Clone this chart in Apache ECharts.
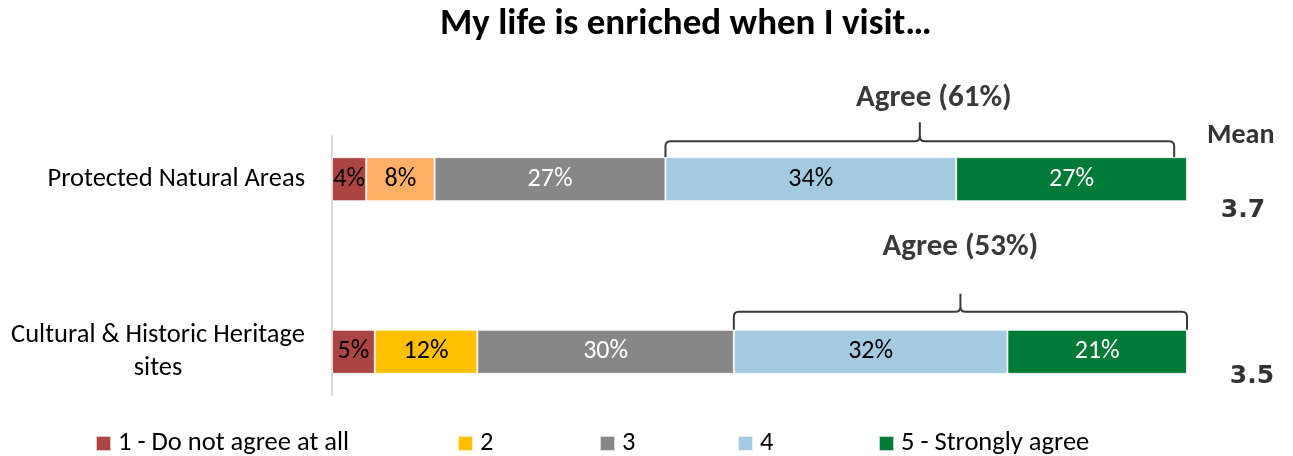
<!DOCTYPE html>
<html>
<head>
<meta charset="utf-8">
<script src="https://cdn.jsdelivr.net/npm/echarts@6/dist/echarts.min.js"></script>
<style>html,body{margin:0;padding:0;background:#fff}#c{width:1293px;height:456px}</style>
</head>
<body>
<div id="c"></div>
<script>
// ---- data ----
const categories = ['Protected Natural Areas', '', 'Cultural & Historic Heritage\nsites'];
const seriesNames = ['1 - Do not agree at all', '2', '3', '4', '5 - Strongly agree'];
const s1 = [4, null, 5];
const s2 = [8, null, 12];
const s3 = [27, null, 30];
const s4 = [34, null, 32];
const s5 = [27, null, 21];
const agreePct = [61, null, 53];
const agreeEnd = [98.5, null, 100];
const meanValues = ['3.7', null, '3.5'];
const titleText = 'My life is enriched when I visit…';

const FONT = 'Carlito, Lato, "Open Sans", sans-serif';
const colors = ['#AB4543', '#FFC000', '#878787', '#A3CAE0', '#007A37'];
const row1Color2 = '#FFB066';
const labelColors = ['#000', '#000', '#fff', '#000', '#fff'];
const allSeries = [s1, s2, s3, s4, s5];

const barSeries = allSeries.map((arr, k) => ({
  name: seriesNames[k],
  type: 'bar',
  stack: 'total',
  barWidth: 44,
  itemStyle: { color: colors[k], borderColor: 'rgba(255,255,255,0.7)', borderWidth: 1 },
  label: {
    show: true, position: 'inside', formatter: p => p.value + '%',
    color: labelColors[k], fontSize: 26, fontFamily: FONT
  },
  data: arr.map((v, i) => (k === 1 && i === 0) ? { value: v, itemStyle: { color: row1Color2 } } : v)
}));

// annotation data: [categoryIndex, agreeStart, agreeEnd, pct, mean]
const annData = [];
categories.forEach((c, i) => {
  if (agreePct[i] == null) return;
  const start = s1[i] + s2[i] + s3[i];
  annData.push([i, start, agreeEnd[i], agreePct[i], meanValues[i]]);
});
const rowStyle = {
  0: { gap: 16, tick: 19, ldx: 14, ldy: -24, mx: 56, my: 31 },
  2: { gap: 18, tick: 18, ldx: 0, ldy: -47, mx: 65, my: 25 }
};

const annSeries = {
  type: 'custom',
  silent: true,
  data: annData,
  encode: { x: [1, 2], y: 0 },
  renderItem: function (params, api) {
    const ci = api.value(0);
    const st = rowStyle[ci];
    const pS = api.coord([api.value(1), ci]);
    const pE = api.coord([api.value(2), ci]);
    const p100 = api.coord([100, ci]);
    const cy = pS[1];
    const yb = cy - 22;
    const yl = yb - st.gap;
    const x0 = pS[0], x1 = pE[0], xm = (x0 + x1) / 2;
    const r = 5;
    const yt = yl - st.tick;
    const d = `M${x0},${yb} L${x0},${yl + r} Q${x0},${yl} ${x0 + r},${yl} L${xm - r},${yl} Q${xm},${yl} ${xm},${yl - r} L${xm},${yt}` +
      ` M${xm},${yl - r} Q${xm},${yl} ${xm + r},${yl} L${x1 - r},${yl} Q${x1},${yl} ${x1},${yl + r} L${x1},${yb}`;
    return {
      type: 'group',
      children: [
        { type: 'path', shape: { pathData: d }, style: { stroke: '#3a3a3a', lineWidth: 2, fill: null } },
        { type: 'text', x: xm + st.ldx, y: yt + st.ldy, style: {
            text: 'Agree (' + api.value(3) + '%)', fill: '#3a3a3a', font: 'bold 31px ' + FONT,
            align: 'center', verticalAlign: 'middle' } },
        { type: 'text', x: p100[0] + st.mx, y: cy + st.my, style: {
            text: api.value(4), fill: '#333', font: 'bold 25px "DejaVu Sans", Verdana, sans-serif',
            align: 'center', verticalAlign: 'middle' } }
      ]
    };
  }
};

const legendLefts = [95, 457, 599, 737, 878];
const legends = seriesNames.map((n, k) => ({
  data: [n], left: legendLefts[k], top: 430, padding: 0, icon: 'rect', itemWidth: 15, itemHeight: 15, itemGap: 0,
  selectedMode: false,
  textStyle: { fontSize: 26.5, color: '#000', fontFamily: FONT, padding: [0, 0, 0, 2] }
}));

const chart = echarts.init(document.getElementById('c'), null, { renderer: 'canvas' });
chart.setOption({
  animation: false,
  textStyle: { fontFamily: FONT },
  title: { text: titleText, left: 435, top: 1, textStyle: { fontSize: 37, fontWeight: 'bold', color: '#000', fontFamily: FONT } },
  legend: legends,
  graphic: [{ type: 'text', left: 1207, top: 122, style: { text: 'Mean', font: 'bold 28px ' + FONT, fill: '#333' } }],
  grid: { left: 332, right: 106, top: 136, height: 259 },
  xAxis: { type: 'value', min: 0, max: 100, show: false },
  yAxis: {
    type: 'category', inverse: true, data: categories,
    axisLine: { show: true, lineStyle: { color: '#d9d9d9', width: 2 } },
    axisTick: { show: false },
    axisLabel: {
      margin: 27, color: '#000', fontSize: 26.5, fontFamily: FONT,
      formatter: v => v.split('\n').map(s => '{c|' + s + '}').join('\n'),
      rich: { c: { align: 'center', fontSize: 26.5, fontFamily: FONT, color: '#000', lineHeight: 33 } }
    }
  },
  series: barSeries.concat([annSeries])
});
</script>
</body>
</html>
